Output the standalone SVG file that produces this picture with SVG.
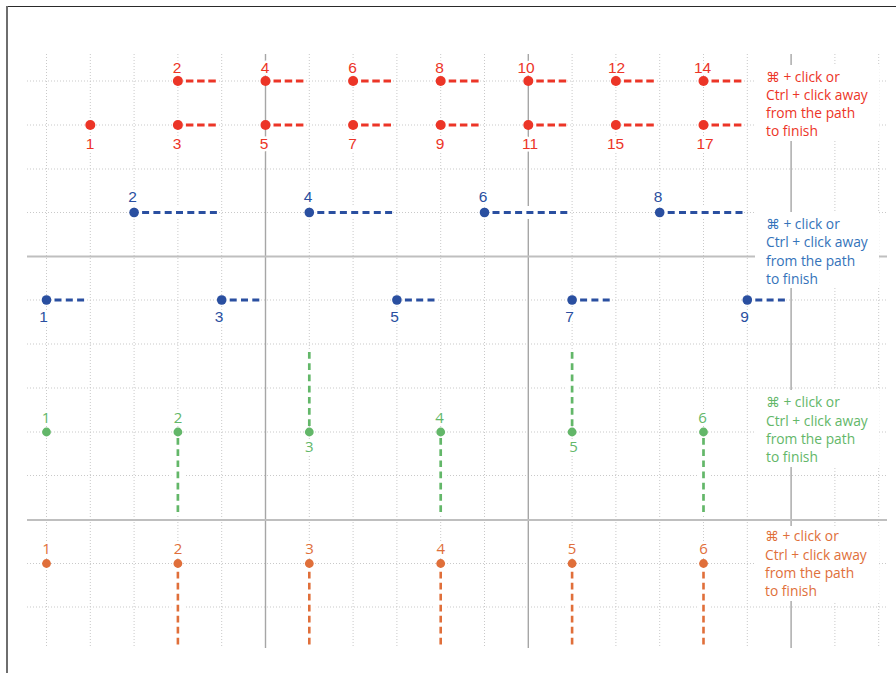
<svg xmlns="http://www.w3.org/2000/svg" width="896" height="673" viewBox="0 0 896 673">
<style>
.bg{fill:#fff}
.gd{stroke:#c9c9c9;stroke-width:1;stroke-dasharray:1 2;fill:none}
.gsv{stroke:#a6a6a6;stroke-width:1.4;fill:none}
.gsh{stroke:#bfbfbf;stroke-width:2;fill:none}
.halo{stroke:#fff;stroke-width:13;fill:none}
.note{font-family:"Open Sans","DejaVu Sans",sans-serif;font-size:13.8px}
.num{font-family:"Liberation Sans",Arial,sans-serif;font-size:15.5px;text-anchor:middle;stroke:#fff;stroke-width:5;paint-order:stroke;stroke-linejoin:round}
.num2{font-family:"Open Sans","DejaVu Sans",sans-serif;font-size:15px;text-anchor:middle;stroke:#fff;stroke-width:5;paint-order:stroke;stroke-linejoin:round}
.red{fill:#ec3527}
.blue{fill:#2a4fa0}
.bluet{fill:#3473ba}
.green{fill:#63b769}
.orange{fill:#e06f3a}
.rd{stroke:#ec3527;stroke-width:3.2;stroke-dasharray:7.5 3.7;fill:none}
.bd{stroke:#2a4fa0;stroke-width:3;stroke-dasharray:7 4.3;fill:none}
.gdash{stroke:#63b769;stroke-width:2.7;stroke-dasharray:6.7 4.5;fill:none}
.od{stroke:#e06f3a;stroke-width:2.6;stroke-dasharray:6.7 4.3;fill:none}
</style>
<rect class="bg" x="0" y="0" width="896" height="673"/>
<g id="frame">
<line x1="7" y1="6.5" x2="896" y2="6.5" stroke="#2a2a2a" stroke-width="1"/>
<line x1="7" y1="6" x2="7" y2="673" stroke="#6e6e6e" stroke-width="2"/>
</g>
<g id="grid">
<path class="gd" d="M46.5 54V648M90.3 54V648M134.1 54V648M177.9 54V648M221.7 54V648M309.3 54V648M353.1 54V648M396.9 54V648M440.7 54V648M484.5 54V648M572.1 54V648M615.9 54V648M659.7 54V648M703.5 54V648M747.3 54V648M834.9 54V648M878.7 54V648"/>
<path class="gd" d="M27 81H887M27 125H887M27 169H887M27 212.5H887M27 300H887M27 344H887M27 388H887M27 432H887M27 475.5H887M27 563.5H887M27 607H887"/>
<path class="gsv" d="M265.5 54V648M528.3 54V648M791.1 54V648"/>
<path class="gsh" d="M27 256.5H887M27 520H887"/>
</g>
<g id="note-backgrounds">
<rect class="bg" x="755" y="65" width="124" height="76"/>
<rect class="bg" x="755" y="212" width="124" height="76"/>
<rect class="bg" x="755" y="390" width="124" height="77"/>
<rect class="bg" x="755" y="526" width="124" height="75"/>
</g>
<g id="connectors">
<path class="halo" d="M183.9 81H216.9M271.5 81H304.5M359.1 81H392.1M446.7 81H479.7M534.3 81H567.3M621.9 81H654.9M709.5 81H742.5M183.9 125H216.9M271.5 125H304.5M359.1 125H392.1M446.7 125H479.7M534.3 125H567.3M621.9 125H654.9M709.5 125H742.5"/>
<path class="halo" d="M140.1 212.5H218.1M315.3 212.5H393.3M490.5 212.5H568.5M665.7 212.5H743.7M52.5 300H85.5M227.7 300H260.7M402.9 300H435.9M578.1 300H611.1M753.3 300H786.3"/>
<path class="halo" d="M177.9 438V514M440.7 438V514M703.5 438V514M309.3 426V350M572.1 426V350"/>
<path class="halo" d="M177.9 570V646M309.3 570V646M440.7 570V646M572.1 570V646M703.5 570V646"/>
<path class="rd" d="M185.9 81H216.9M273.5 81H304.5M361.1 81H392.1M448.7 81H479.7M536.3 81H567.3M623.9 81H654.9M711.5 81H742.5M185.9 125H216.9M273.5 125H304.5M361.1 125H392.1M448.7 125H479.7M536.3 125H567.3M623.9 125H654.9M711.5 125H742.5"/>
<path class="bd" d="M142.1 212.5H217.1M317.3 212.5H392.3M492.5 212.5H567.5M667.7 212.5H742.7M54.5 300H85M229.7 300H260.2M404.9 300H435.4M580.1 300H610.6M755.3 300H785.8"/>
<path class="gdash" d="M177.9 438V513.5M440.7 438V513.5M703.5 438V513.5M309.3 426V350.5M572.1 426V350.5"/>
<path class="od" d="M177.9 571.7V645.5M309.3 571.7V645.5M440.7 571.7V645.5M572.1 571.7V645.5M703.5 571.7V645.5"/>
</g>
<g id="red-points">
<g id="r1"><circle class="red" cx="90.3" cy="125" r="5"/><text class="num red" x="90" y="148.7">1</text></g>
<g id="r2"><circle class="red" cx="177.9" cy="81" r="5"/><text class="num red" x="177" y="73">2</text></g>
<g id="r3"><circle class="red" cx="177.9" cy="125" r="5"/><text class="num red" x="177" y="148.7">3</text></g>
<g id="r4"><circle class="red" cx="265.5" cy="81" r="5"/><text class="num red" x="265" y="73">4</text></g>
<g id="r5"><circle class="red" cx="265.5" cy="125" r="5"/><text class="num red" x="264" y="148.7">5</text></g>
<g id="r6"><circle class="red" cx="353.1" cy="81" r="5"/><text class="num red" x="352.5" y="73">6</text></g>
<g id="r7"><circle class="red" cx="353.1" cy="125" r="5"/><text class="num red" x="352.5" y="148.7">7</text></g>
<g id="r8"><circle class="red" cx="440.7" cy="81" r="5"/><text class="num red" x="439.5" y="73">8</text></g>
<g id="r9"><circle class="red" cx="440.7" cy="125" r="5"/><text class="num red" x="440" y="148.7">9</text></g>
<g id="r10"><circle class="red" cx="528.3" cy="81" r="5"/><text class="num red" x="526" y="73">10</text></g>
<g id="r11"><circle class="red" cx="528.3" cy="125" r="5"/><text class="num red" x="530" y="148.7">11</text></g>
<g id="r12"><circle class="red" cx="615.9" cy="81" r="5"/><text class="num red" x="616.5" y="73">12</text></g>
<g id="r15"><circle class="red" cx="615.9" cy="125" r="5"/><text class="num red" x="615.5" y="148.7">15</text></g>
<g id="r14"><circle class="red" cx="703.5" cy="81" r="5"/><text class="num red" x="702.5" y="73">14</text></g>
<g id="r17"><circle class="red" cx="703.5" cy="125" r="5"/><text class="num red" x="705" y="148.7">17</text></g>
</g>
<g id="red-note"><text class="note red"><tspan x="766" y="82">⌘ + click or</tspan><tspan x="766" y="100">Ctrl + click away</tspan><tspan x="766" y="118">from the path</tspan><tspan x="766" y="136">to finish</tspan></text></g>
<g id="blue-points">
<g id="b1"><circle class="blue" cx="46.5" cy="300" r="4.8"/><text class="num blue" x="43.5" y="322">1</text></g>
<g id="b2"><circle class="blue" cx="134.1" cy="212.5" r="4.8"/><text class="num blue" x="132.5" y="202">2</text></g>
<g id="b3"><circle class="blue" cx="221.7" cy="300" r="4.8"/><text class="num blue" x="219" y="322">3</text></g>
<g id="b4"><circle class="blue" cx="309.3" cy="212.5" r="4.8"/><text class="num blue" x="308" y="202">4</text></g>
<g id="b5"><circle class="blue" cx="396.9" cy="300" r="4.8"/><text class="num blue" x="394.5" y="322">5</text></g>
<g id="b6"><circle class="blue" cx="484.5" cy="212.5" r="4.8"/><text class="num blue" x="483" y="202">6</text></g>
<g id="b7"><circle class="blue" cx="572.1" cy="300" r="4.8"/><text class="num blue" x="569.5" y="322">7</text></g>
<g id="b8"><circle class="blue" cx="659.7" cy="212.5" r="4.8"/><text class="num blue" x="658" y="202">8</text></g>
<g id="b9"><circle class="blue" cx="747.3" cy="300" r="4.8"/><text class="num blue" x="744.5" y="322">9</text></g>
</g>
<g id="blue-note"><text class="note bluet"><tspan x="766" y="228.5">⌘ + click or</tspan><tspan x="766" y="247">Ctrl + click away</tspan><tspan x="766" y="265.5">from the path</tspan><tspan x="766" y="284">to finish</tspan></text></g>
<g id="green-points">
<g id="g1"><circle class="green" cx="46.5" cy="432" r="4.4"/><text class="num2 green" x="46" y="422.5">1</text></g>
<g id="g2"><circle class="green" cx="177.9" cy="432" r="4.4"/><text class="num2 green" x="178" y="422.5">2</text></g>
<g id="g3"><circle class="green" cx="309.3" cy="432" r="4.4"/><text class="num2 green" x="309.3" y="452">3</text></g>
<g id="g4"><circle class="green" cx="440.7" cy="432" r="4.4"/><text class="num2 green" x="439.5" y="422.5">4</text></g>
<g id="g5"><circle class="green" cx="572.1" cy="432" r="4.4"/><text class="num2 green" x="573.5" y="452">5</text></g>
<g id="g6"><circle class="green" cx="703.5" cy="432" r="4.4"/><text class="num2 green" x="702.5" y="422.5">6</text></g>
</g>
<g id="green-note"><text class="note green"><tspan x="766" y="407">⌘ + click or</tspan><tspan x="766" y="425.5">Ctrl + click away</tspan><tspan x="766" y="444">from the path</tspan><tspan x="766" y="462">to finish</tspan></text></g>
<g id="orange-points">
<g id="o1"><circle class="orange" cx="46.5" cy="563.5" r="4.4"/><text class="num2 orange" x="46.5" y="553.7">1</text></g>
<g id="o2"><circle class="orange" cx="177.9" cy="563.5" r="4.4"/><text class="num2 orange" x="178" y="553.7">2</text></g>
<g id="o3"><circle class="orange" cx="309.3" cy="563.5" r="4.4"/><text class="num2 orange" x="309.5" y="553.7">3</text></g>
<g id="o4"><circle class="orange" cx="440.7" cy="563.5" r="4.4"/><text class="num2 orange" x="440.7" y="553.7">4</text></g>
<g id="o5"><circle class="orange" cx="572.1" cy="563.5" r="4.4"/><text class="num2 orange" x="572.1" y="553.7">5</text></g>
<g id="o6"><circle class="orange" cx="703.5" cy="563.5" r="4.4"/><text class="num2 orange" x="703.5" y="553.7">6</text></g>
</g>
<g id="orange-note"><text class="note orange"><tspan x="765" y="541">⌘ + click or</tspan><tspan x="765" y="559.5">Ctrl + click away</tspan><tspan x="765" y="578">from the path</tspan><tspan x="765" y="596">to finish</tspan></text></g>
</svg>
